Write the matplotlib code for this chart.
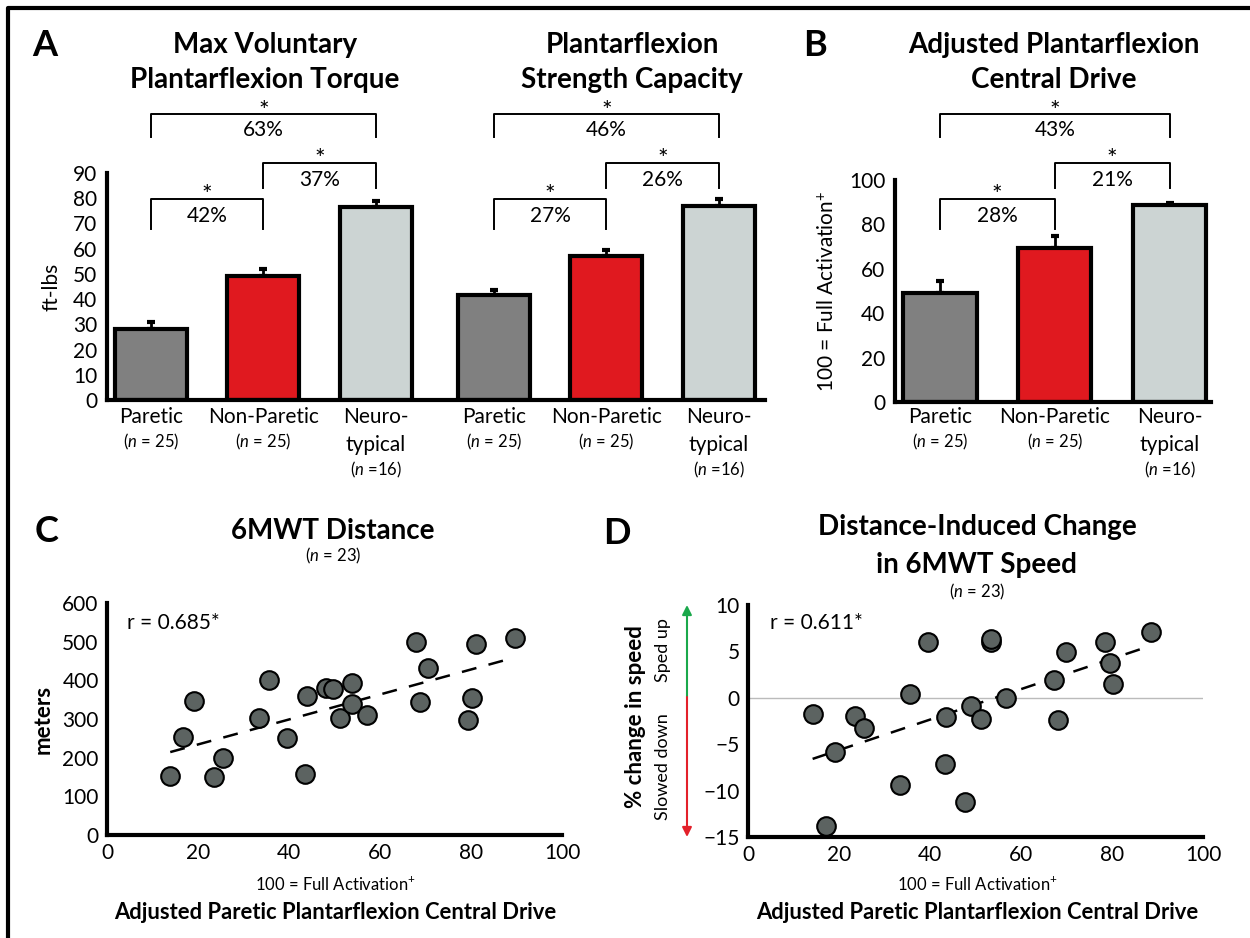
import numpy as np
import matplotlib
matplotlib.use("Agg")
import matplotlib.pyplot as plt
from matplotlib.transforms import blended_transform_factory
from matplotlib.lines import Line2D
from matplotlib.patches import FancyArrowPatch

plt.rcParams['font.family'] = ['Lato', 'DejaVu Sans']
plt.rcParams['mathtext.fontset'] = 'custom'
plt.rcParams['mathtext.rm'] = 'Lato'
plt.rcParams['mathtext.it'] = 'Lato:italic'

# ---- data ----
groups = ['Paretic', 'Non-Paretic', 'Neuro-\ntypical']
group_n = ['($n$ = 25)', '($n$ = 25)', '($n$ =16)']
bar_colors = ['#808080', '#e0191f', '#ccd4d3']

torque = [28, 49, 76.5]
torque_err = [3, 3, 2.5]
capacity = [41.5, 57, 77]
capacity_err = [2, 2.5, 2.5]
torque_pct = ['42%', '37%', '63%']
capacity_pct = ['27%', '26%', '46%']

drive = [49, 69.4, 88.7]
drive_err = [5.5, 5.4, 0.9]
drive_pct = ['28%', '21%', '43%']

drive_c = [13.9, 16.8, 19.2, 23.6, 25.6, 33.4, 35.7, 39.6, 43.6, 44.0, 48.1, 49.6,
           51.2, 53.8, 53.8, 57.2, 67.9, 68.7, 70.5, 79.4, 80.3, 81.2, 89.7]
distance = [153, 254, 347, 149, 198, 303, 400, 250, 158, 360, 381, 378,
            303, 392, 339, 310, 500, 343, 431, 298, 355, 494, 509]

drive_d = [14.2, 17.1, 19.2, 23.6, 25.6, 33.3, 35.5, 39.6, 43.4, 43.6, 47.8, 49.0,
           51.1, 53.4, 53.4, 56.8, 67.3, 68.1, 69.8, 78.5, 79.5, 80.3, 88.6]
speed_change = [-1.7, -13.8, -5.8, -2.0, -3.3, -9.4, 0.4, 6.0, -7.1, -2.05, -11.2, -0.9,
                -2.3, 6.0, 6.3, 0.0, 1.9, -2.4, 4.9, 6.0, 3.7, 1.5, 7.1]

W, H = 1250, 938
fig = plt.figure(figsize=(W / 100, H / 100), dpi=100)

FS = 15      # tick / category / bracket text
FS_N = 12    # "(n = ..)" text
FS_T = 20    # panel titles


def fx(px):
    return px / W


def fy(py):
    return 1 - py / H


def add_ax(left, top, right, bottom):
    return fig.add_axes([fx(left), fy(bottom), (right - left) / W, (bottom - top) / H])


def style_ax(ax, pad_x=8, pad_y=6):
    for s in ['top', 'right']:
        ax.spines[s].set_visible(False)
    for s in ['left', 'bottom']:
        ax.spines[s].set_linewidth(3)
    ax.tick_params(length=0, labelsize=FS)
    ax.tick_params(axis='x', pad=pad_x)
    ax.tick_params(axis='y', pad=pad_y)


def bars(ax, xs, vals, errs):
    ax.bar(xs, vals, width=0.64, color=bar_colors, edgecolor='black', linewidth=3, zorder=2)
    ax.errorbar(xs, vals, yerr=[np.zeros(len(errs)), errs], fmt='none', ecolor='black',
                elinewidth=2, capsize=3, capthick=3, zorder=1)


def bracket(ax, x0, x1, top, leg, star_y, pct_y, pct):
    tr = blended_transform_factory(ax.transData, fig.transFigure)
    ax.add_line(Line2D([x0, x0, x1, x1], [fy(leg), fy(top), fy(top), fy(leg)],
                       transform=tr, color='black', lw=1.4, clip_on=False))
    ax.text((x0 + x1) / 2, fy(star_y + 4), '*', transform=tr, ha='center', va='center', fontsize=18)
    ax.text((x0 + x1) / 2, fy(pct_y), pct, transform=tr, ha='center', va='center', fontsize=FS)


def cat_labels(ax, xs):
    tr = blended_transform_factory(ax.transData, fig.transFigure)
    for x, g, n in zip(xs, groups, group_n):
        if '\n' in g:
            a, b = g.split('\n')
            ax.text(x, fy(417), a, transform=tr, ha='center', va='center', fontsize=FS)
            ax.text(x, fy(445), b, transform=tr, ha='center', va='center', fontsize=FS)
            ax.text(x, fy(470), n, transform=tr, ha='center', va='center', fontsize=FS_N)
        else:
            ax.text(x, fy(417), g, transform=tr, ha='center', va='center', fontsize=FS)
            ax.text(x, fy(442), n, transform=tr, ha='center', va='center', fontsize=FS_N)


def title(xc, ys, lines, size=FS_T):
    for y, t in zip(ys, lines):
        fig.text(fx(xc), fy(y), t, ha='center', va='center', fontsize=size, fontweight='bold')


# ---- panel A ----
axA = add_ax(107, 173, 765, 400)
xa1 = [0, 1, 2]
xa2 = [3.05, 4.05, 5.05]
bars(axA, xa1, torque, torque_err)
bars(axA, xa2, capacity, capacity_err)
axA.set_xlim(-0.39, 5.46)
axA.set_ylim(0, 90)
axA.set_yticks(range(0, 91, 10))
axA.set_xticks([])
style_ax(axA, pad_y=7)
axA.set_ylabel('ft-lbs', fontsize=FS, labelpad=8)
cat_labels(axA, xa1)
cat_labels(axA, xa2)
for xs, pcts in [(xa1, torque_pct), (xa2, capacity_pct)]:
    bracket(axA, xs[0], xs[1], 199, 229, 192, 216, pcts[0])
    bracket(axA, xs[1], xs[2], 163, 188, 156, 180, pcts[1])
    bracket(axA, xs[0], xs[2], 114, 137, 107, 130, pcts[2])
title(265, [45, 80], ['Max Voluntary', 'Plantarflexion Torque'])
title(632, [45, 80], ['Plantarflexion', 'Strength Capacity'])

# ---- panel B ----
axB = add_ax(895, 180, 1211, 402)
xb = [0, 1, 2]
bars(axB, xb, drive, drive_err)
axB.set_xlim(-0.39, 2.36)
axB.set_ylim(0, 100)
axB.set_yticks(range(0, 101, 20))
axB.set_xticks([])
style_ax(axB, pad_y=7)
axB.set_ylabel('100 = Full Activation$^{+}$', fontsize=FS, labelpad=8)
cat_labels(axB, xb)
bracket(axB, xb[0], xb[1], 199, 229, 192, 216, drive_pct[0])
bracket(axB, xb[1], xb[2], 163, 188, 156, 180, drive_pct[1])
bracket(axB, xb[0], xb[2], 114, 137, 107, 130, drive_pct[2])
title(1054, [45, 80], ['Adjusted Plantarflexion', 'Central Drive'])


# ---- scatter panels ----
def scatter_panel(ax, x, y):
    ax.scatter(x, y, s=180, facecolor='#5c6361', edgecolor='black', linewidth=1.5, zorder=3)
    k, b = np.polyfit(x, y, 1)
    xl = np.array([min(x), max(x) - 2])
    ax.plot(xl, k * xl + b, color='black', lw=1.8, dashes=(6, 5), zorder=2)
    ax.set_xlim(0, 100)
    ax.set_xticks(range(0, 101, 20))
    style_ax(ax, pad_x=6, pad_y=6)


axC = add_ax(107, 603, 562, 835)
scatter_panel(axC, drive_c, distance)
axC.set_ylim(0, 600)
axC.set_yticks(range(0, 601, 100))
axC.set_ylabel('meters', fontsize=16, fontweight='bold', labelpad=6)
axC.text(fx(127), fy(623), 'r = 0.685*', transform=fig.transFigure, fontsize=FS, va='center')
title(333, [531], ['6MWT Distance'])
fig.text(fx(333), fy(556), '($n$ = 23)', ha='center', va='center', fontsize=FS_N)
fig.text(fx(335), fy(884), '100 = Full Activation$^{+}$', ha='center', va='center', fontsize=FS_N)
title(335, [912], ['Adjusted Paretic Plantarflexion Central Drive'], size=15.8)

axD = add_ax(748, 605, 1203, 837)
axD.axhline(0, color='#bbbbbb', lw=1, zorder=1)
scatter_panel(axD, drive_d, speed_change)
axD.set_ylim(-15, 10)
axD.set_yticks(range(-15, 11, 5))
axD.set_yticklabels(['\u221215', '\u221210', '\u22125', '0', '5', '10'])
axD.text(fx(770), fy(623), 'r = 0.611*', transform=fig.transFigure, fontsize=FS, va='center')
title(977, [527, 565], ['Distance-Induced Change', 'in 6MWT Speed'])
fig.text(fx(977), fy(592), '($n$ = 23)', ha='center', va='center', fontsize=FS_N)
fig.text(fx(977), fy(884), '100 = Full Activation$^{+}$', ha='center', va='center', fontsize=FS_N)
title(977, [912], ['Adjusted Paretic Plantarflexion Central Drive'], size=15.8)

fig.text(fx(635), fy(717), '% change in speed', rotation=90, ha='center', va='center',
         fontsize=16, fontweight='bold')
fig.text(fx(663), fy(650), 'Sped up', rotation=90, ha='center', va='center', fontsize=13)
fig.text(fx(663), fy(767), 'Slowed down', rotation=90, ha='center', va='center', fontsize=13)
fig.add_artist(FancyArrowPatch((fx(687), fy(697)), (fx(687), fy(605)), transform=fig.transFigure,
                               arrowstyle='-|>', mutation_scale=14, color='#1aa84b', lw=1.5,
                               shrinkA=0, shrinkB=0))
fig.add_artist(FancyArrowPatch((fx(687), fy(697)), (fx(687), fy(837)), transform=fig.transFigure,
                               arrowstyle='-|>', mutation_scale=14, color='#e3202a', lw=1.5,
                               shrinkA=0, shrinkB=0))

# ---- panel letters and frame ----
for letter, (px, py) in zip('ABCD', [(45, 45), (815, 45), (47, 532), (617, 533)]):
    fig.text(fx(px), fy(py), letter, ha='center', va='center', fontsize=26, fontweight='bold')
fig.add_artist(Line2D([fx(8), fx(8), fx(W)], [fy(H), fy(8), fy(8)], transform=fig.transFigure,
                      color='black', lw=3))

fig.savefig('out.png', dpi=100)
